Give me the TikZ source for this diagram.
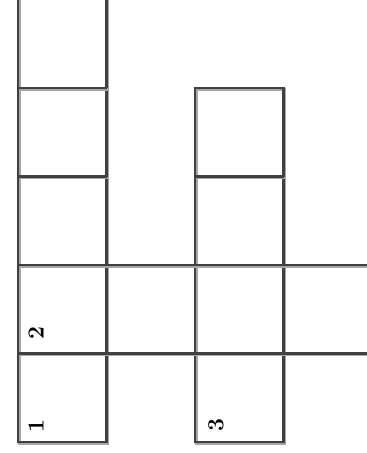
\documentclass[tikz,border=0pt]{standalone}
\usetikzlibrary{positioning}
\begin{document}
\begin{tikzpicture}[x=1pt, y=-1pt,
  gridline/.style={draw=black!75, line width=2.6pt,
    preaction={draw=black!35, line width=2.6pt, transform canvas={shift={(1.6pt,-1.6pt)}}}},
  num/.style={rotate=90, inner sep=0pt, font=\fontsize{23}{23}\selectfont\bfseries}
]
\clip (0,0) rectangle (367,453);
% left column
\draw[gridline] (18,-10) -- (18,442) -- (106.5,442) -- (106.5,-10);
\foreach \y in {88,176.5,265,353.5}
  \draw[gridline] (18,\y) -- (106.5,\y);
% right column
\draw[gridline] (195,88) rectangle (283.5,442);
\draw[gridline] (195,176.5) -- (283.5,176.5);
% long rows
\draw[gridline] (18,265) -- (380,265);
\draw[gridline] (18,353.5) -- (380,353.5);

\node[num] (one) at (36,426.5) {1};
\node[num] (two) at (36,333.5) {2};
\node[num] (three) at (216,425) {3};
\end{tikzpicture}
\end{document}
